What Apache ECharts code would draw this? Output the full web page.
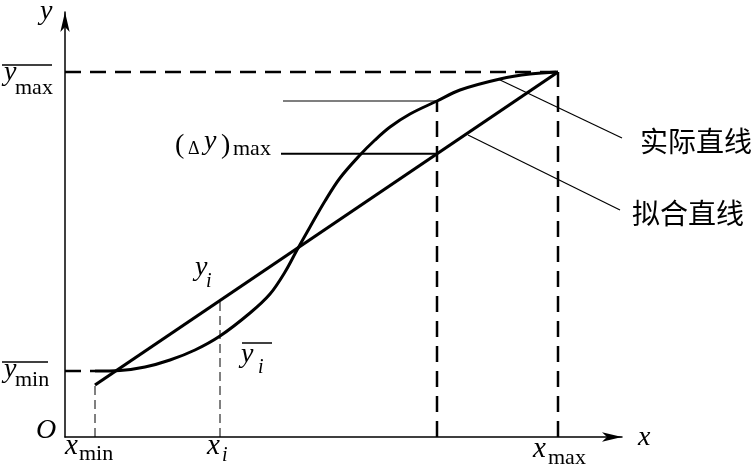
<!DOCTYPE html>
<html>
<head>
<meta charset="utf-8">
<script src="https://cdn.jsdelivr.net/npm/echarts@6/dist/echarts.min.js"></script>
<style>
  html, body { margin: 0; padding: 0; background: #fff; }
  #chart { width: 756px; height: 469px; }
</style>
</head>
<body>
<div id="chart"></div>
<script>
// positions along the axes (schematic units)
var xMarks = [30, 155, 372, 493]; // x_min, x_i, x_k, x_max
var yMin = 66;
var yMax = 365;
// fitted straight line end points
var fitX = [30, 493];
var fitY = [52, 365];
// actual characteristic (S curve)
var actualX = [30, 55, 80, 105, 130, 155, 185, 205, 220, 232, 245, 260, 275, 295, 310, 325, 345, 372, 395, 435, 465, 493];
var actualY = [66, 66.5, 70, 77, 87, 101, 124, 143, 165, 187, 210, 236, 259, 282, 297, 310, 323, 336, 347, 358, 363, 365];
// pointer lines to the two captions
var leaderActual = [[433, 358], [557, 299]];
var leaderFit = [[403, 302], [555, 227]];

var chart = echarts.init(document.getElementById('chart'));

function fitAt(x) {
  return fitY[0] + (x - fitX[0]) * (fitY[1] - fitY[0]) / (fitX[1] - fitX[0]);
}
function actualAt(x) {
  for (var i = 1; i < actualX.length; i++) {
    if (x <= actualX[i]) {
      var t = (x - actualX[i - 1]) / (actualX[i] - actualX[i - 1]);
      return actualY[i - 1] + t * (actualY[i] - actualY[i - 1]);
    }
  }
  return actualY[actualY.length - 1];
}

var SERIF = '"Liberation Serif", "DejaVu Serif", serif';
var CJK = '"Noto Sans CJK SC", sans-serif';

// text helper: left edge + baseline
function txt(str, left, base, size, italic, font) {
  return {
    type: 'text',
    x: left,
    y: base - 0.34 * size,
    style: {
      text: str,
      font: (italic ? 'italic ' : '') + size + 'px ' + (font || SERIF),
      fill: '#000',
      verticalAlign: 'middle'
    }
  };
}
function bar(x1, x2, y) {
  return { type: 'line', shape: { x1: x1, y1: y, x2: x2, y2: y }, style: { stroke: '#000', lineWidth: 1.5 } };
}

var thick = { color: '#000', width: 3 };
var dashThick = { color: '#000', width: 2.5, type: [16, 9] };
var dashThin = { color: '#000', width: 1, type: [9, 5] };
var thin = { color: '#000', width: 1.2 };

function seg(data, style) {
  return { type: 'line', data: data, symbol: 'none', lineStyle: style, silent: true };
}

var xk = xMarks[2];
var curveData = actualX.map(function (x, i) { return [x, actualY[i]]; });

chart.setOption({
  animation: false,
  grid: { left: 65, right: 134, top: 12, bottom: 32 },
  xAxis: {
    type: 'value', min: 0, max: 557,
    axisLine: { show: true, symbol: ['none', 'arrow'], symbolSize: [7, 20], lineStyle: { color: '#000', width: 1.5 } },
    axisTick: { show: false }, axisLabel: { show: false }, splitLine: { show: false }
  },
  yAxis: {
    type: 'value', min: 0, max: 425,
    axisLine: { show: true, symbol: ['none', 'arrow'], symbolSize: [7, 20], lineStyle: { color: '#000', width: 1.5 } },
    axisTick: { show: false }, axisLabel: { show: false }, splitLine: { show: false }
  },
  series: [
    seg([[0, yMax], [xMarks[3], yMax]], dashThick),
    seg([[0, yMin], [xMarks[0], yMin]], dashThick),
    seg([[xMarks[3], 0], [xMarks[3], yMax]], dashThick),
    seg([[xk, 0], [xk, actualAt(xk)]], dashThick),
    seg([[xMarks[0], 0], [xMarks[0], fitAt(xMarks[0])]], dashThin),
    seg([[xMarks[1], 0], [xMarks[1], fitAt(xMarks[1])]], dashThin),
    seg([[218, actualAt(xk)], [xk, actualAt(xk)]], thin),
    seg([[216, fitAt(xk)], [xk, fitAt(xk)]], { color: '#000', width: 2 }),
    seg(leaderActual, thin),
    seg(leaderFit, thin),
    seg([[fitX[0], fitY[0]], [fitX[1], fitY[1]]], { color: '#000', width: 3.2 }),
    { type: 'line', data: curveData, smooth: 0.35, symbol: 'none', lineStyle: thick, silent: true }
  ],
  graphic: [
    txt('y', 40, 21, 28, true),
    txt('x', 638, 447, 28, true),
    txt('O', 36, 440, 28, true),
    bar(2, 52, 65),
    txt('y', 4, 82, 28, true),
    txt('max', 15, 96, 22),
    bar(2, 48, 362),
    txt('y', 4, 379, 28, true),
    txt('min', 15, 388, 22),
    txt('x', 65, 456, 29, true),
    txt('min', 79, 462, 22),
    txt('x', 207, 456, 29, true),
    txt('i', 222, 463, 20, true),
    txt('x', 533, 459, 29, true),
    txt('max', 548, 466, 22),
    txt('y', 195, 277, 28, true),
    txt('i', 206, 289, 20, true),
    bar(242, 272, 343),
    txt('y', 241, 364, 28, true),
    txt('i', 258, 375, 20, true),
    txt('(', 175, 155, 28),
    txt('\u0394', 188, 155, 18),
    txt('y', 204, 151, 28, true),
    txt(')', 221, 155, 28),
    txt('max', 233, 157, 22),
    {
      type: 'text', x: 640, y: 141,
      style: { text: '实际直线', font: '28px ' + CJK, fill: '#000', verticalAlign: 'middle' }
    },
    {
      type: 'text', x: 632, y: 213,
      style: { text: '拟合直线', font: '28px ' + CJK, fill: '#000', verticalAlign: 'middle' }
    }
  ]
});
</script>
</body>
</html>
